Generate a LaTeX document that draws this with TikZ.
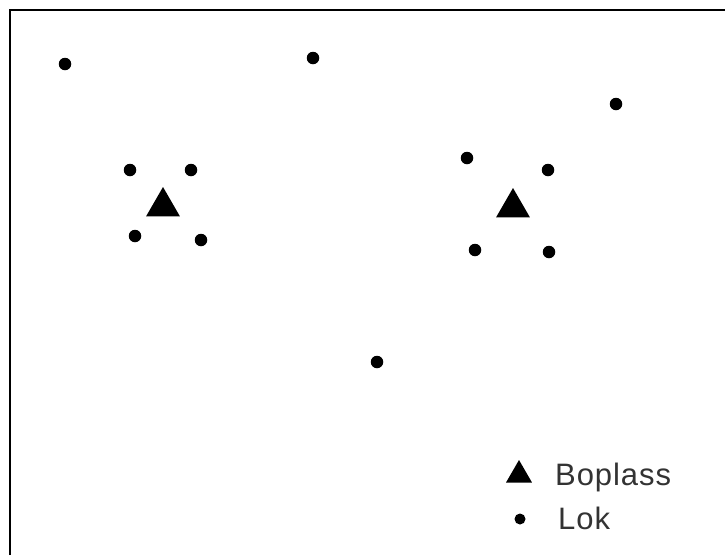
\documentclass[tikz,border=0pt]{standalone}
\usepackage{fontspec}
\setmainfont{Liberation Sans}
\usetikzlibrary{shapes.geometric}

\tikzset{
  lok/.style={circle,fill=black,inner sep=0pt,minimum size=12.5pt},
  boplass/.style={regular polygon,regular polygon sides=3,fill=black,inner sep=0pt,minimum size=39pt},
  legtext/.style={anchor=base west,inner sep=0pt,text=black!80,font=\addfontfeatures{LetterSpace=3}\fontsize{31}{36}\selectfont}
}

\begin{document}
\begin{tikzpicture}[x=1pt,y=-1pt]
        \useasboundingbox (0,0) rectangle (725,555);
        % frame
        \draw[line width=2pt] (10,555) -- (10,10) -- (725,10);
        % boplasser
        \node[boplass] (b1) at (163,206.5) {};
        \node[boplass] (b2) at (513,207.5) {};
        % lokaliteter
        \node[lok] (l1) at (65,64) {};
        \node[lok] (l2) at (313,58) {};
        \node[lok] (l3) at (616,104) {};
        \node[lok] (l4) at (130,170) {};
        \node[lok] (l5) at (191,170) {};
        \node[lok] (l6) at (135,236) {};
        \node[lok] (l7) at (201,240) {};
        \node[lok] (l8) at (467,158) {};
        \node[lok] (l9) at (548,170) {};
        \node[lok] (l10) at (475,250) {};
        \node[lok] (l11) at (549,252) {};
        \node[lok] (l12) at (377,362) {};
        % legend
        \node[boplass,minimum size=30pt] (legb) at (519,475) {};
        \node[lok,minimum size=11pt] (legl) at (520,519) {};
        \node[legtext] (tb) at (555,485) {Boplass};
        \node[legtext] (tl) at (558,529) {Lok};
    \end{tikzpicture}
\end{document}
